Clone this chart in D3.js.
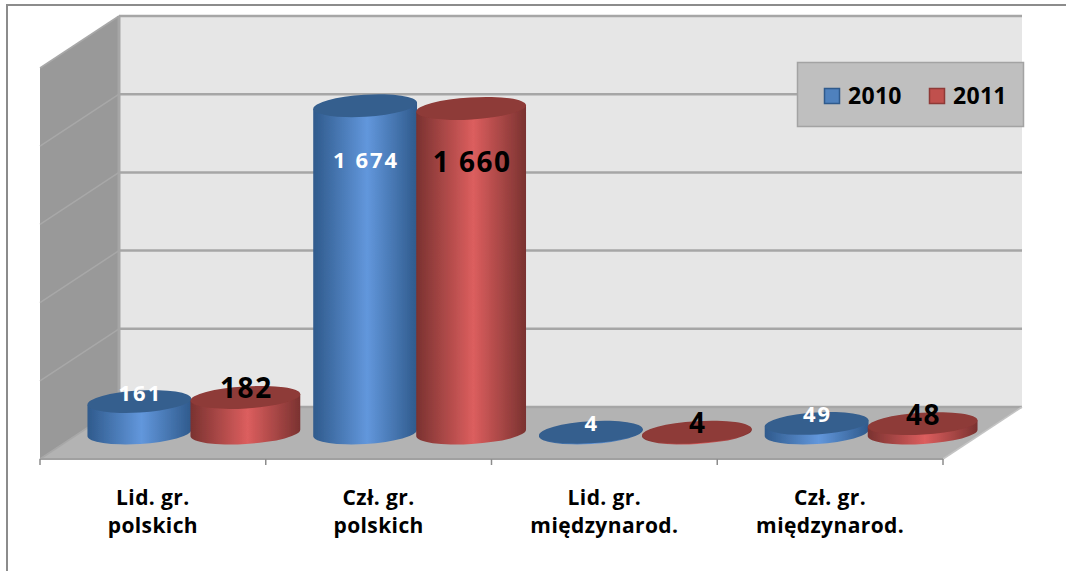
<!DOCTYPE html>
<html>
<head>
<meta charset="utf-8">
<script src="https://cdn.jsdelivr.net/npm/d3@7"></script>
<style>
  html, body { margin: 0; padding: 0; background: #fff; }
  svg { display: block; }
  text { font-family: "Open Sans", sans-serif; font-weight: 700; }
</style>
</head>
<body>
<svg id="chart" width="1066" height="571"></svg>
<script>
// chart data
const categories = ["Lid. gr.|polskich", "Czł. gr.|polskich", "Lid. gr.|międzynarod.", "Czł. gr.|międzynarod."];
const seriesNames = ["2010", "2011"];
const values2010 = [161, 1674, 4, 49];
const values2011 = [182, 1660, 4, 48];
const labels2010 = ["161", "1 674", "4", "49"];
const labels2011 = ["182", "1 660", "4", "48"];
const gridValues = [0, 400, 800, 1200, 1600, 2000];

const svg = d3.select("#chart");
const defs = svg.append("defs");

// 3d box of the plot: back wall corner and the depth shift towards the viewer
const wall = { left: 119, right: 1022, top: 16, bottom: 407 };
const depth = { dx: -79, dy: 52 };
const baseDrop = 26;   // cylinders stand this far in front of the back wall
const tilt = -3.5;     // the ellipses lean a little in the original

const y = d3.scaleLinear().domain([0, 2000]).range([wall.bottom, wall.top]);
const xFront = d3.scaleBand().domain(categories)
  .range([wall.left + depth.dx, wall.right + depth.dx]);
const xMid = d3.scaleBand().domain(categories)
  .range([wall.left + depth.dx / 2, wall.right + depth.dx / 2]);
const xSeries = d3.scaleBand().domain(seriesNames).range([-106, 106]);

const styles = {
  "2010": { edge: "#2f5a8c", mid: "#6297dc", top: "#365f8e", key: "#4f81bd", keyLine: "#2f5a8c", rx: 52, text: "#fff", size: 22, spacing: 2 },
  "2011": { edge: "#7a3230", mid: "#dc5e5e", top: "#8e3a37", key: "#c0504d", keyLine: "#8e3a37", rx: 55, text: "#000", size: 28, spacing: 1.5 }
};

seriesNames.forEach(s => {
  const g = defs.append("linearGradient").attr("id", "grad" + s);
  g.append("stop").attr("offset", "0%").attr("stop-color", styles[s].edge);
  g.append("stop").attr("offset", "52%").attr("stop-color", styles[s].mid);
  g.append("stop").attr("offset", "100%").attr("stop-color", styles[s].edge);
});
defs.append("filter").attr("id", "soft")
  .attr("x", "-5%").attr("y", "-5%").attr("width", "110%").attr("height", "110%")
  .append("feGaussianBlur").attr("stdDeviation", 0.6);

// outer frame, only top and left are visible
svg.append("path").attr("d", "M7,571V5H1066").attr("fill", "none")
  .attr("stroke", "#8c8c8c").attr("stroke-width", 2);

const box = svg.append("g").attr("filter", "url(#soft)");

box.append("rect").attr("x", wall.left).attr("y", wall.top)
  .attr("width", wall.right - wall.left).attr("height", wall.bottom - wall.top)
  .attr("fill", "#e6e6e6");

box.append("polygon").attr("fill", "#999999").attr("points", [
  [wall.left, wall.top], [wall.left, wall.bottom],
  [wall.left + depth.dx, wall.bottom + depth.dy], [wall.left + depth.dx, wall.top + depth.dy]
].join(" "));

box.append("polygon").attr("fill", "#b3b3b3").attr("points", [
  [wall.left, wall.bottom], [wall.right, wall.bottom],
  [wall.right + depth.dx, wall.bottom + depth.dy], [wall.left + depth.dx, wall.bottom + depth.dy]
].join(" "));

// grid lines on back wall and side wall
box.selectAll(".grid").data(gridValues).enter().append("line")
  .attr("x1", wall.left).attr("x2", wall.right)
  .attr("y1", d => y(d)).attr("y2", d => y(d))
  .attr("stroke", "#a6a6a6").attr("stroke-width", 2.5);
box.selectAll(".sidegrid").data(gridValues).enter().append("line")
  .attr("x1", wall.left).attr("x2", wall.left + depth.dx)
  .attr("y1", d => y(d)).attr("y2", d => y(d) + depth.dy)
  .attr("stroke", "#a8a8a8").attr("stroke-width", 1.5);
box.append("line").attr("x1", wall.left).attr("x2", wall.left)
  .attr("y1", wall.top).attr("y2", wall.bottom)
  .attr("stroke", "#a6a6a6").attr("stroke-width", 3);
box.append("line").attr("x1", wall.right + depth.dx).attr("x2", wall.right)
  .attr("y1", wall.bottom + depth.dy).attr("y2", wall.bottom)
  .attr("stroke", "#c4c4c4").attr("stroke-width", 1.5);

// front edge with the category ticks
const frontEdge = wall.left + depth.dx;
const step = xFront.bandwidth();
box.append("line").attr("x1", frontEdge).attr("x2", wall.right + depth.dx)
  .attr("y1", wall.bottom + depth.dy).attr("y2", wall.bottom + depth.dy)
  .attr("stroke", "#a0a0a0").attr("stroke-width", 2);
box.selectAll(".tick").data(d3.range(categories.length + 1)).enter().append("line")
  .attr("x1", d => frontEdge + d * step).attr("x2", d => frontEdge + d * step)
  .attr("y1", wall.bottom + depth.dy).attr("y2", wall.bottom + depth.dy + 6)
  .attr("stroke", "#8c8c8c").attr("stroke-width", 1.5);

// cylinders
const rad = tilt * Math.PI / 180;
const ry = 11;
function bodyPath(cx, rx, top, bottom) {
  const dx = rx * Math.cos(rad), dy = rx * Math.sin(rad);
  const p = d3.path();
  p.moveTo(cx - dx, top - dy);
  p.lineTo(cx - dx, bottom - dy);
  return p.toString() +
    `A${rx},${ry} ${tilt} 0 0 ${cx + dx},${bottom + dy}` +
    `L${cx + dx},${top + dy}Z`;
}

const rows = seriesNames.map((s, i) => ({
  name: s,
  values: i === 0 ? values2010 : values2011,
  labels: i === 0 ? labels2010 : labels2011
}));

const bars = svg.append("g").attr("filter", "url(#soft)");
rows.forEach(row => {
  const st = styles[row.name];
  const items = categories.map((c, i) => ({
    cx: xMid(c) + xMid.bandwidth() / 2 + xSeries(row.name) + xSeries.bandwidth() / 2,
    bottom: y(0) + baseDrop,
    top: y(row.values[i]) + baseDrop
  }));
  const g = bars.append("g");
  g.selectAll("path").data(items).enter().append("path")
    .attr("d", d => bodyPath(d.cx, st.rx, d.top, d.bottom))
    .attr("fill", `url(#grad${row.name})`);
  g.selectAll("ellipse").data(items).enter().append("ellipse")
    .attr("rx", st.rx).attr("ry", ry)
    .attr("transform", d => `translate(${d.cx},${d.top}) rotate(${tilt})`)
    .attr("fill", st.top);
});

// value labels go on top of the cylinder, tall ones get them inside
rows.forEach(row => {
  const st = styles[row.name];
  svg.append("g").selectAll("text").data(categories).enter().append("text")
    .attr("x", c => xMid(c) + xMid.bandwidth() / 2 + xSeries(row.name) + xSeries.bandwidth() / 2 + 1)
    .attr("y", (c, i) => {
      const top = y(row.values[i]) + baseDrop;
      return row.values[i] > 1000 ? top + 53 : top - 10;
    })
    .attr("text-anchor", "middle").attr("dominant-baseline", "central")
    .attr("font-size", st.size).attr("letter-spacing", st.spacing).attr("fill", st.text)
    .text((c, i) => row.labels[i]);
});

// category labels, two lines each
const labelG = svg.append("g");
categories.forEach(c => {
  c.split("|").forEach((line, i) => {
    labelG.append("text")
      .attr("x", xFront(c) + xFront.bandwidth() / 2)
      .attr("y", 505 + i * 28)
      .attr("text-anchor", "middle")
      .attr("font-size", 21).attr("letter-spacing", 0.4).attr("fill", "#000")
      .text(line);
  });
});

// legend
const legend = svg.append("g");
legend.append("rect").attr("x", 797.5).attr("y", 62.5).attr("width", 226).attr("height", 64)
  .attr("fill", "#bfbfbf").attr("stroke", "#a3a3a3").attr("stroke-width", 1.5);
const legendX = d3.scaleBand().domain(seriesNames).range([824, 1034]);
seriesNames.forEach(s => {
  legend.append("rect").attr("x", legendX(s) + 0.5).attr("y", 88.5).attr("width", 15).attr("height", 15)
    .attr("fill", styles[s].key).attr("stroke", styles[s].keyLine).attr("stroke-width", 1.5);
  legend.append("text").attr("x", legendX(s) + 24).attr("y", 103.5)
    .attr("font-size", 23).attr("letter-spacing", 0.3).attr("fill", "#000").text(s);
});
</script>
</body>
</html>
